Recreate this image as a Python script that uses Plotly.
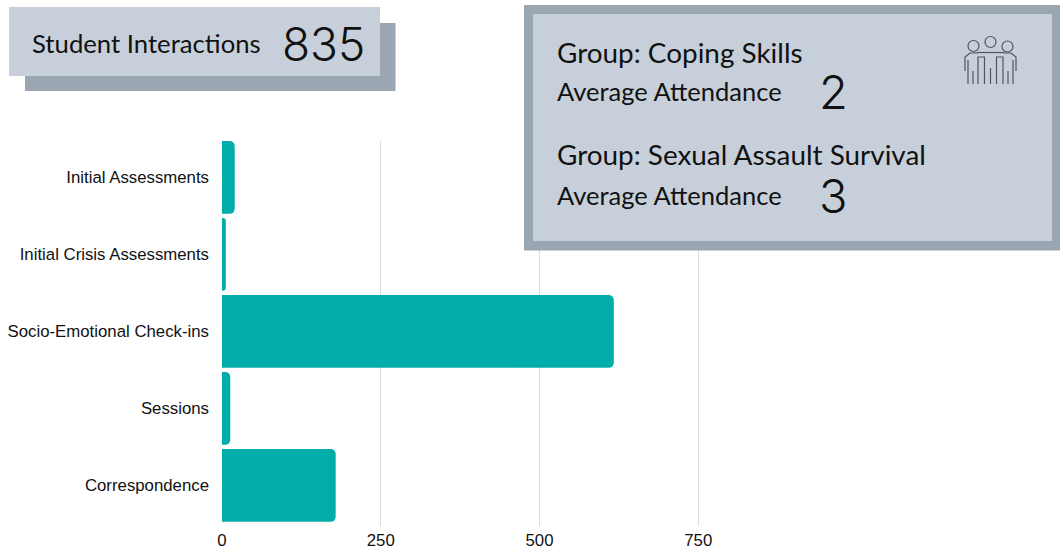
import plotly.graph_objects as go

W, H = 1063, 555
categories = ["Initial Assessments", "Initial Crisis Assessments", "Socio-Emotional Check-ins", "Sessions", "Correspondence"]
values = [20, 6, 617, 13, 179]
tick_values = [0, 250, 500, 750]
TEAL = "#00ADA9"
LIGHT = "#C7D0DA"
DARK = "#9AA7B3"
ICON = "#4f565c"


def px(x):
    return x / W


def py(y):
    return 1 - y / H


def rect(x0, y0, x1, y1, color):
    return dict(type="rect", xref="paper", yref="paper", x0=px(x0), x1=px(x1), y0=py(y1), y1=py(y0),
                fillcolor=color, line_width=0, layer="above")


def circle(cx, cy, r):
    return dict(type="circle", xref="paper", yref="paper", x0=px(cx - r), x1=px(cx + r), y0=py(cy + r), y1=py(cy - r),
                line=dict(color=ICON, width=1.2), fillcolor="rgba(0,0,0,0)", layer="above")


def line(points, width=1.2):
    d = "M " + " L ".join(f"{px(x):.5f},{py(y):.5f}" for x, y in points)
    return dict(type="path", xref="paper", yref="paper", path=d, line=dict(color=ICON, width=width), layer="above")


def text(x, y, s, size, family="Lato", weight=400):
    return dict(xref="paper", yref="paper", x=px(x), y=py(y), text=s, showarrow=False, xanchor="left", yanchor="middle",
                font=dict(family=family, size=size, color="#111111", weight=weight), borderpad=0)


fig = go.Figure(go.Bar(y=categories, x=values, orientation="h", width=0.945,
                       marker=dict(color=TEAL, cornerradius=5, line_width=0)))

shapes = [
    rect(25, 23, 395.5, 91, DARK),
    rect(9, 7, 380, 76, LIGHT),
    rect(524, 5, 1060, 250.5, DARK),
    rect(533, 14, 1052, 241, LIGHT),
    circle(973.5, 46, 5.5), circle(990.5, 42, 5.5), circle(1007.5, 46.5, 5.5),
    line([(977, 52.5), (1004, 52.5)]),
    line([(978, 53), (970, 53), (965, 57), (965, 71)]),
    line([(1003, 53), (1011, 53), (1016, 57), (1016, 71)]),
    line([(968, 60), (968, 84)]), line([(973, 71), (973, 84)]),
    line([(978, 84), (978, 57), (984.5, 57), (984.5, 84)]),
    line([(990.5, 68), (990.5, 84)]),
    line([(996.5, 84), (996.5, 57), (1003, 57), (1003, 84)]),
    line([(1008, 71), (1008, 84)]), line([(1013, 60), (1013, 84)]),
]

annotations = [
    text(31, 43, "Student Interactions", 25.7),
    text(281, 44, "835", 46, "Inter", 300),
    text(556, 52, "Group: Coping Skills", 27.9),
    text(556, 91, "Average Attendance", 25.5),
    text(818, 92, "2", 47, "Inter", 300),
    text(556, 154, "Group: Sexual Assault Survival", 27.9),
    text(556, 195, "Average Attendance", 25.5),
    text(818, 196, "3", 47, "Inter", 300),
]

fig.update_layout(
    width=W, height=H, margin=dict(l=0, r=0, t=0, b=0, autoexpand=False), plot_bgcolor="white", paper_bgcolor="white",
    showlegend=False, shapes=shapes, annotations=annotations,
    font=dict(family="Liberation Sans", size=16.8, color="#111111"),
    xaxis=dict(domain=[px(222), 1], range=[0, 841 / 0.635], tickvals=tick_values, showgrid=True, gridcolor="#dddddd",
               gridwidth=1, zeroline=False, showline=False, ticks="", anchor="y", automargin=False,
               ticklabelstandoff=3, tickfont=dict(size=16.8)),
    yaxis=dict(domain=[py(525.5), py(140.5)], range=[4.52, -0.48], showgrid=False, zeroline=False, showline=False,
               ticks="", ticklen=0, ticklabelstandoff=12, automargin=False, tickfont=dict(size=16.8)),
)

fig.write_html("out.html", config=dict(displayModeBar=False),
               post_script="document.body.style.margin='0';document.documentElement.style.overflow='hidden';")
